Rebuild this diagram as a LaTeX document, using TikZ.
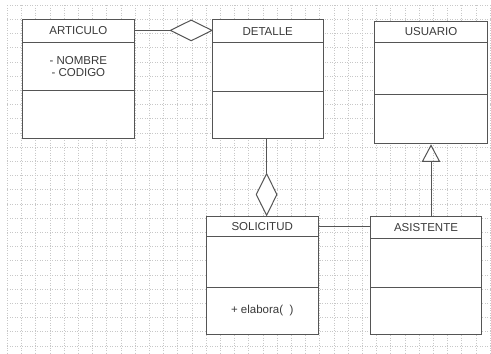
\documentclass[tikz,border=0pt]{standalone}
\usepackage{fontspec}
\setmainfont{Liberation Sans}
\usetikzlibrary{shapes.geometric,arrows.meta}
\definecolor{boxline}{HTML}{555555}
\definecolor{txt}{HTML}{3A3A3A}
\definecolor{gridc}{HTML}{C8C8C8}
\begin{document}
\begin{tikzpicture}[x=1pt,y=-1pt,
  comp/.style={draw=boxline, line width=1pt, fill=white, rectangle, inner sep=0pt,
    anchor=north west, text=txt, font=\fontsize{11.5pt}{12.4pt}\selectfont, align=center},
  gridline/.style={draw=gridc, line width=0.5pt, dotted},
  conn/.style={draw=boxline, line width=1pt},
  agg/.style={draw=boxline, line width=1pt, fill=white, diamond, inner sep=0pt}
]
\useasboundingbox (0,0) rectangle (491,354);
\fill[white] (0,0) rectangle (491,354);
% grid
\foreach \i in {0,...,34} {\draw[gridline] ({7.3+14.2*\i},5) -- ({7.3+14.2*\i},354);}
\foreach \j in {0,...,24} {\draw[gridline] (7.3,{5+14.2*\j}) -- (491,{5+14.2*\j});}

% ARTICULO
\node[comp, minimum width=112.3pt, minimum height=22.4pt] (arth) at (21.7,19.3) {ARTICULO};
\node[comp, minimum width=112.3pt, minimum height=48.3pt] (arta) at (21.7,41.7) {- NOMBRE\\- CODIGO};
\node[comp, minimum width=112.3pt, minimum height=48pt] (arto) at (21.7,90) {};
% DETALLE
\node[comp, minimum width=111pt, minimum height=22.7pt] (deth) at (211.7,19.3) {DETALLE};
\node[comp, minimum width=111pt, minimum height=48.7pt] (deta) at (211.7,42) {};
\node[comp, minimum width=111pt, minimum height=47.3pt] (deto) at (211.7,90.7) {};
% USUARIO
\node[comp, minimum width=112.4pt, minimum height=21.6pt] (usuh) at (374.3,20.7) {USUARIO};
\node[comp, minimum width=112.4pt, minimum height=52pt] (usua) at (374.3,42.3) {};
\node[comp, minimum width=112.4pt, minimum height=49pt] (usuo) at (374.3,94.3) {};
% SOLICITUD
\node[comp, minimum width=112pt, minimum height=20pt] (solh) at (205.7,216) {SOLICITUD};
\node[comp, minimum width=112pt, minimum height=50.7pt] (sola) at (205.7,236) {};
\node[comp, minimum width=112pt, minimum height=47.3pt] (solo) at (205.7,286.7) {+ elabora(\ \ )};
% ASISTENTE
\node[comp, minimum width=111pt, minimum height=22.3pt] (asih) at (370,216) {ASISTENTE};
\node[comp, minimum width=111pt, minimum height=49pt] (asia) at (370,238.3) {};
\node[comp, minimum width=111pt, minimum height=47pt] (asio) at (370,287.3) {};

% aggregation ARTICULO - DETALLE
\node[agg, minimum width=42pt, minimum height=21pt] (d1) at (191.2,30.4) {};
\draw[conn] (d1.west) -- (d1.west -| arth.east);
% aggregation DETALLE - SOLICITUD
\node[agg, minimum width=21pt, minimum height=42pt] (d2) at (266.6,194.5) {};
\draw[conn] (d2.north) -- (d2.north |- deto.south);
% association SOLICITUD - ASISTENTE
\draw[conn] (solh.east) -- (solh.east -| asih.west);
% generalization ASISTENTE -> USUARIO
\draw[conn, {Triangle[open, length=17.5pt, width=18.4pt, line width=1pt]}-] (usuo.south) -- (usuo.south |- asih.north);
\end{tikzpicture}
\end{document}
